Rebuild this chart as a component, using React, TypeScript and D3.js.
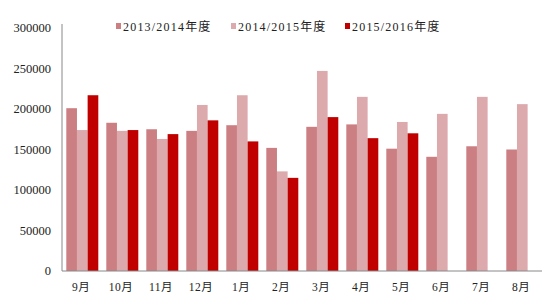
import React from "react";
import * as d3 from "d3";

const months = ["9月", "10月", "11月", "12月", "1月", "2月", "3月", "4月", "5月", "6月", "7月", "8月"];
const seriesNames = ["2013/2014年度", "2014/2015年度", "2015/2016年度"];
const s1 = [201000, 183000, 175000, 173000, 180000, 152000, 178000, 181000, 151000, 141000, 154000, 150000];
const s2 = [174000, 173000, 163000, 205000, 217000, 123000, 247000, 215000, 184000, 194000, 215000, 206000];
const s3: (number | null)[] = [217000, 174000, 169000, 186000, 160000, 115000, 190000, 164000, 170000, null, null, null];
const yTicks = [0, 50000, 100000, 150000, 200000, 250000, 300000];
const colors = ["#cc7f82", "#dcaaad", "#c00000"];

const W = 550, H = 300;
const left = 62, right = 542, top = 28, bottom = 271;

export default function App() {
  const x = d3.scaleBand<string>().domain(months).range([left, right]).paddingInner(0).paddingOuter(0);
  const inner = d3.scaleBand<number>().domain([0, 1, 2]).range([4.3, x.bandwidth() - 3.7]);
  const y = d3.scaleLinear().domain([0, 300000]).range([bottom, top]);
  const data = [s1, s2, s3];
  const font = "'Liberation Serif', 'Noto Sans CJK SC', serif";
  const legendX = [116, 231, 345];
  return (
    <svg width={W} height={H} style={{ position: "absolute", left: 0, top: 0, background: "#fff" }}>
      <rect width={W} height={H} fill="#fff" />
      {data.map((s, si) =>
        s.map((v, i) =>
          v == null ? null : (
            <rect
              key={`${si}-${i}`}
              x={(x(months[i]) as number) + (inner(si) as number)}
              y={y(v)}
              width={inner.bandwidth()}
              height={bottom - y(v)}
              fill={colors[si]}
            />
          )
        )
      )}
      <line x1={left} x2={left} y1={top - 4} y2={bottom} stroke="#888" strokeWidth={1} />
      <line x1={left} x2={right} y1={bottom} y2={bottom} stroke="#888" strokeWidth={1} />
      {yTicks.map((t) => (
        <text key={t} x={51} y={y(t) + 4} textAnchor="end" fontFamily={font} fontSize={12.5} fill="#222">
          {t}
        </text>
      ))}
      {months.map((m) => (
        <text
          key={m}
          x={(x(m) as number) + x.bandwidth() / 2 - 1}
          y={291}
          textAnchor="middle"
          fontFamily={font}
          fontSize={11.5}
          fill="#222"
          letterSpacing={0.5}
        >
          {m}
        </text>
      ))}
      {seriesNames.map((n, i) => (
        <g key={n}>
          <rect x={legendX[i]} y={23} width={5} height={6} fill={colors[i]} />
          <text x={legendX[i] + 7} y={31} fontFamily={font} fontSize={12} fill="#222" letterSpacing={1.2}>
            {n}
          </text>
        </g>
      ))}
    </svg>
  );
}
